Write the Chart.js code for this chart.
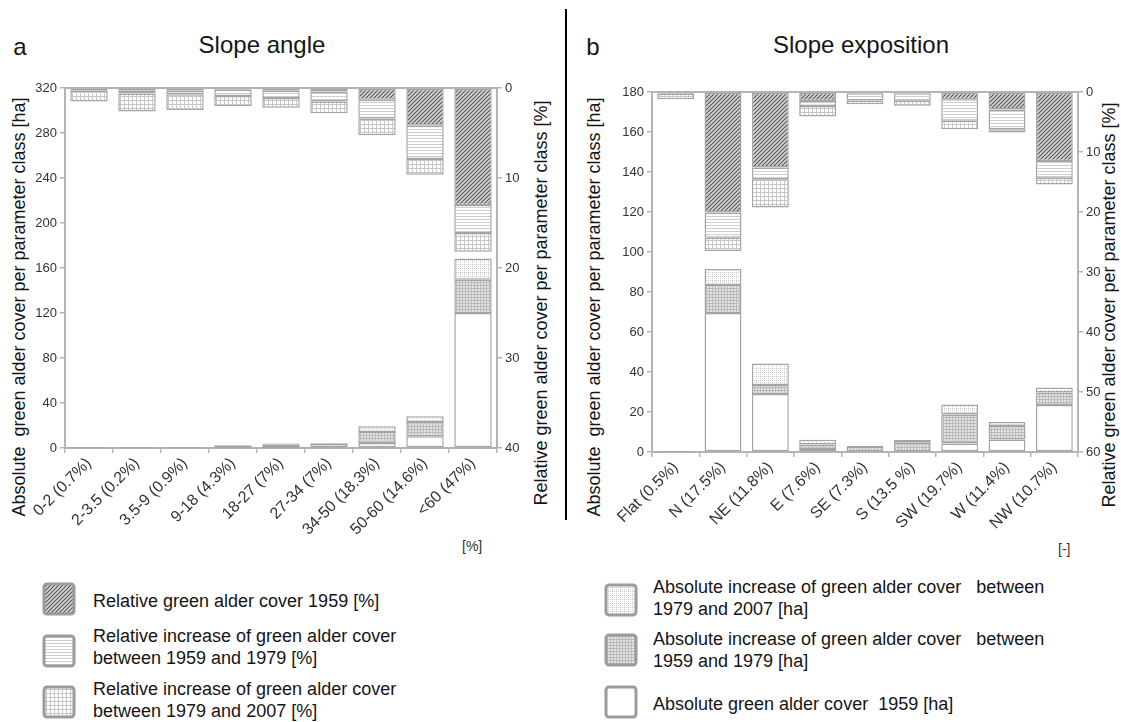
<!DOCTYPE html>
<html>
<head>
<meta charset="utf-8">
<script src="https://cdn.jsdelivr.net/npm/chart.js@4.4.1/dist/chart.umd.min.js"></script>
<style>
  body { margin:0; background:#fff; width:1121px; height:722px; overflow:hidden; position:relative;
         font-family:"Liberation Sans", Arial, sans-serif; color:#151515; }
  .t { position:absolute; white-space:pre; line-height:21px; }
  .v { position:absolute; white-space:pre; transform:translate(-50%,-50%) rotate(-90deg); font-size:18px; color:#151515; }
  .head { position:absolute; font-size:24px; transform:translate(-50%,-50%); white-space:pre; }
  .box { position:absolute; }
  .leg { position:absolute; font-size:18px; line-height:21.5px; white-space:pre; color:#151515; }
</style>
</head>
<body>

<div class="head" style="left:20px;top:47px;">a</div>
<div class="head" style="left:262px;top:45px;">Slope angle</div>
<div class="head" style="left:593px;top:47px;">b</div>
<div class="head" style="left:861px;top:45px;">Slope exposition</div>

<div style="position:absolute;left:565px;top:9px;width:1.5px;height:511px;background:#000;"></div>

<div class="v" style="left:19px;top:307px;">Absolute  green alder cover per parameter class [ha]</div>
<div class="v" style="left:541px;top:303px;">Relative green alder cover per parameter class [%]</div>
<div class="v" style="left:594px;top:307px;">Absolute  green alder cover per parameter class [ha]</div>
<div class="v" style="left:1109px;top:305px;">Relative green alder cover per parameter class [%]</div>

<div class="t" style="left:462px;top:536px;font-size:14px;color:#333;">[%]</div>
<div class="t" style="left:1058px;top:539px;font-size:14px;color:#333;">[-]</div>

<canvas id="slope" class="box" width="530" height="545" style="left:0;top:0;width:530px;height:545px;"></canvas>
<canvas id="expo" class="box" width="540" height="550" style="left:580px;top:0;width:540px;height:550px;"></canvas>

<canvas id="sw1" class="box" width="34" height="34" style="left:42px;top:582px;"></canvas>
<canvas id="sw2" class="box" width="34" height="34" style="left:42px;top:634px;"></canvas>
<canvas id="sw3" class="box" width="34" height="34" style="left:42px;top:685px;"></canvas>
<canvas id="sw4" class="box" width="34" height="34" style="left:604px;top:583px;"></canvas>
<canvas id="sw5" class="box" width="34" height="34" style="left:604px;top:633px;"></canvas>
<canvas id="sw6" class="box" width="34" height="34" style="left:604px;top:685px;"></canvas>

<div class="leg" style="left:93px;top:591px;">Relative green alder cover 1959 [%]</div>
<div class="leg" style="left:93px;top:626px;">Relative increase of green alder cover
between 1959 and 1979 [%]</div>
<div class="leg" style="left:93px;top:679px;">Relative increase of green alder cover
between 1979 and 2007 [%]</div>
<div class="leg" style="left:653px;top:577px;">Absolute increase of green alder cover   between
1979 and 2007 [ha]</div>
<div class="leg" style="left:653px;top:629px;">Absolute increase of green alder cover   between
1959 and 1979 [ha]</div>
<div class="leg" style="left:653px;top:694px;">Absolute green alder cover  1959 [ha]</div>

<script>
// ---- Slope angle classes (share of area in brackets) ----
const slopeClasses = ['0-2 (0.7%)', '2-3.5 (0.2%)', '3.5-9 (0.9%)', '9-18 (4.3%)', '18-27 (7%)',
                      '27-34 (7%)', '34-50 (18.3%)', '50-60 (14.6%)', '<60 (47%)'];
// relative cover [%] (drawn from the top, reversed right axis)
const slopeRel1959    = [0.1, 0.3, 0.3, 0.2, 0.3, 0.4, 1.3, 4.2, 13.0];
const slopeRelInc5979 = [0.2, 0.3, 0.4, 0.7, 0.8, 1.1, 2.1, 3.7, 3.1];
const slopeRelInc7907 = [1.2, 2.0, 1.75, 1.1, 1.1, 1.3, 1.85, 1.75, 2.1];
// absolute cover [ha] (drawn from the bottom, left axis)
const slopeAbs1959    = [0.05, 0.02, 0.1, 0.3, 0.3, 0.5, 4.4, 10.4, 120];
const slopeAbsInc5979 = [0.1, 0.05, 0.3, 1.5, 2.6, 3.2, 9.8, 12.7, 29.5];
const slopeAbsInc7907 = [0.1, 0.03, 0.2, 0.6, 1.0, 1.0, 5.1, 5.1, 19];
const slopeAbsTicks = [0, 320, 40];   // min, max, step
const slopeRelTicks = [0, 40, 10];

// ---- Slope exposition classes ----
const expoClasses = ['Flat (0.5%)', 'N (17.5%)', 'NE (11.8%)', 'E (7.6%)', 'SE (7.3%)',
                     'S (13.5 %)', 'SW (19.7%)', 'W (11.4%)', 'NW (10.7%)'];
const expoRel1959    = [0.1, 20.1, 12.6, 1.5, 0.2, 0.2, 1.2, 2.9, 11.5];
const expoRelInc5979 = [0.2, 4.2, 1.95, 0.85, 1.2, 1.25, 3.6, 3.3, 2.8];
const expoRelInc7907 = [0.9, 2.2, 4.7, 1.75, 0.65, 0.85, 1.4, 0.55, 1.1];
const expoAbs1959    = [0.05, 69.5, 29, 1.5, 0.3, 0.3, 4.2, 6.3, 23.5];
const expoAbsInc5979 = [0.15, 14, 4.5, 2.3, 2.2, 4.3, 14.6, 6.7, 6.2];
const expoAbsInc7907 = [0.1, 8, 10.7, 2.3, 0.5, 1.4, 5.0, 2.0, 2.5];
const expoAbsTicks = [0, 180, 20];
const expoRelTicks = [0, 60, 10];

// ---- fill patterns ----
function makePattern(w, h, draw) {
  const c = document.createElement('canvas');
  c.width = w; c.height = h;
  const g = c.getContext('2d');
  draw(g, w, h);
  return g.createPattern(c, 'repeat');
}
const patHatch = makePattern(4, 4, (g) => {
  g.fillStyle = '#d4d4d4'; g.fillRect(0, 0, 4, 4);
  g.strokeStyle = '#585858'; g.lineWidth = 1.1;
  g.beginPath();
  g.moveTo(0, 4); g.lineTo(4, 0);
  g.moveTo(-1, 1); g.lineTo(1, -1);
  g.moveTo(3, 5); g.lineTo(5, 3);
  g.stroke();
});
const patHoriz = makePattern(4, 3, (g) => {
  g.fillStyle = '#ffffff'; g.fillRect(0, 0, 4, 3);
  g.fillStyle = '#cfcfcf'; g.fillRect(0, 0, 4, 1);
});
const patRelGrid = makePattern(4, 4, (g) => {
  g.fillStyle = '#ffffff'; g.fillRect(0, 0, 4, 4);
  g.fillStyle = '#c6c6c6'; g.fillRect(0, 0, 4, 1); g.fillRect(0, 0, 1, 4);
});
const patAbsGrid = makePattern(3, 3, (g) => {
  g.fillStyle = '#e4e4e4'; g.fillRect(0, 0, 3, 3);
  g.fillStyle = '#b9b9b9'; g.fillRect(0, 0, 3, 1); g.fillRect(0, 0, 1, 3);
});
const patAbsDots = makePattern(4, 4, (g) => {
  g.fillStyle = '#ffffff'; g.fillRect(0, 0, 4, 4);
  g.fillStyle = '#c4c4c4';
  g.fillRect(0, 0, 1, 1); g.fillRect(2, 0, 1, 1); g.fillRect(0, 2, 1, 1);
});

const AXIS = '#b4b4b4';
const EDGE = '#a4a4a4';
Chart.defaults.font.family = '"Liberation Sans", Arial, sans-serif';
Chart.defaults.color = '#333';

function buildDatasets(rel1959, relInc5979, relInc7907, abs1959, absInc5979, absInc7907) {
  return [
    { label: 'Absolute green alder cover 1959 [ha]', data: abs1959, yAxisID: 'y', backgroundColor: '#ffffff' },
    { label: 'Absolute increase of green alder cover between 1959 and 1979 [ha]', data: absInc5979, yAxisID: 'y', backgroundColor: patAbsGrid },
    { label: 'Absolute increase of green alder cover between 1979 and 2007 [ha]', data: absInc7907, yAxisID: 'y', backgroundColor: patAbsDots },
    { label: 'Relative green alder cover 1959 [%]', data: rel1959, yAxisID: 'y1', backgroundColor: patHatch },
    { label: 'Relative increase of green alder cover between 1959 and 1979 [%]', data: relInc5979, yAxisID: 'y1', backgroundColor: patHoriz },
    { label: 'Relative increase of green alder cover between 1979 and 2007 [%]', data: relInc7907, yAxisID: 'y1', backgroundColor: patRelGrid }
  ].map(d => Object.assign(d, {
    stack: 'one', borderColor: EDGE, borderWidth: 1.5, borderSkipped: false,
    barPercentage: 0.78, categoryPercentage: 1
  }));
}

// line along the top of the plot (zero of the reversed relative axis)
const topLine = {
  id: 'topLine',
  afterDraw(chart) {
    const a = chart.chartArea, ctx = chart.ctx;
    ctx.save();
    ctx.strokeStyle = AXIS; ctx.lineWidth = 2;
    ctx.beginPath(); ctx.moveTo(a.left, a.top); ctx.lineTo(a.right, a.top); ctx.stroke();
    ctx.restore();
  }
};

function makeChart(id, labels, sets, absT, relT, geo) {
  const tickGrid = { drawOnChartArea: false, drawTicks: true, tickLength: 5, color: AXIS, lineWidth: 1.5 };
  return new Chart(document.getElementById(id), {
    type: 'bar',
    data: { labels: labels, datasets: sets },
    plugins: [topLine],
    options: {
      responsive: false, animation: false,
      layout: { padding: { left: geo.padL, right: geo.padR, top: geo.padT, bottom: 0 } },
      plugins: { legend: { display: false }, tooltip: { enabled: false } },
      scales: {
        x: {
          stacked: true, offset: true,
          grid: Object.assign({ offset: true }, tickGrid),
          border: { color: AXIS, width: 2 },
          ticks: { autoSkip: false, maxRotation: 45, minRotation: 45, padding: 1, font: { size: 16 }, color: '#333' },
          afterFit: s => { s.height = geo.xH; }
        },
        y: {
          stacked: true, position: 'left', min: absT[0], max: absT[1],
          grid: tickGrid, border: { color: AXIS, width: 2 },
          ticks: { stepSize: absT[2], padding: 3, font: { size: 13 }, color: '#333' },
          afterFit: s => { s.width = geo.yW; }
        },
        y1: {
          stacked: true, position: 'right', reverse: true, min: relT[0], max: relT[1],
          grid: tickGrid, border: { color: AXIS, width: 2 },
          ticks: { stepSize: relT[2], padding: 3, font: { size: 13 }, color: '#333' },
          afterFit: s => { s.width = geo.y1W; }
        }
      }
    }
  });
}

makeChart('slope', slopeClasses,
  buildDatasets(slopeRel1959, slopeRelInc5979, slopeRelInc7907, slopeAbs1959, slopeAbsInc5979, slopeAbsInc7907),
  slopeAbsTicks, slopeRelTicks,
  { padL: 25, yW: 40, padR: 5, y1W: 28, padT: 88, xH: 97 });

makeChart('expo', expoClasses,
  buildDatasets(expoRel1959, expoRelInc5979, expoRelInc7907, expoAbs1959, expoAbsInc5979, expoAbsInc7907),
  expoAbsTicks, expoRelTicks,
  { padL: 30, yW: 42, padR: 12, y1W: 30, padT: 92, xH: 98 });

// legend swatches
function swatch(id, fill) {
  const c = document.getElementById(id), g = c.getContext('2d');
  g.fillStyle = fill;
  g.beginPath(); g.roundRect(2, 2, 30, 30, 3); g.fill();
  g.strokeStyle = '#9c9c9c'; g.lineWidth = 3;
  g.beginPath(); g.roundRect(2, 2, 30, 30, 3); g.stroke();
}
swatch('sw1', patHatch);
swatch('sw2', patHoriz);
swatch('sw3', patRelGrid);
swatch('sw4', patAbsDots);
swatch('sw5', patAbsGrid);
swatch('sw6', '#ffffff');
</script>
</body>
</html>
